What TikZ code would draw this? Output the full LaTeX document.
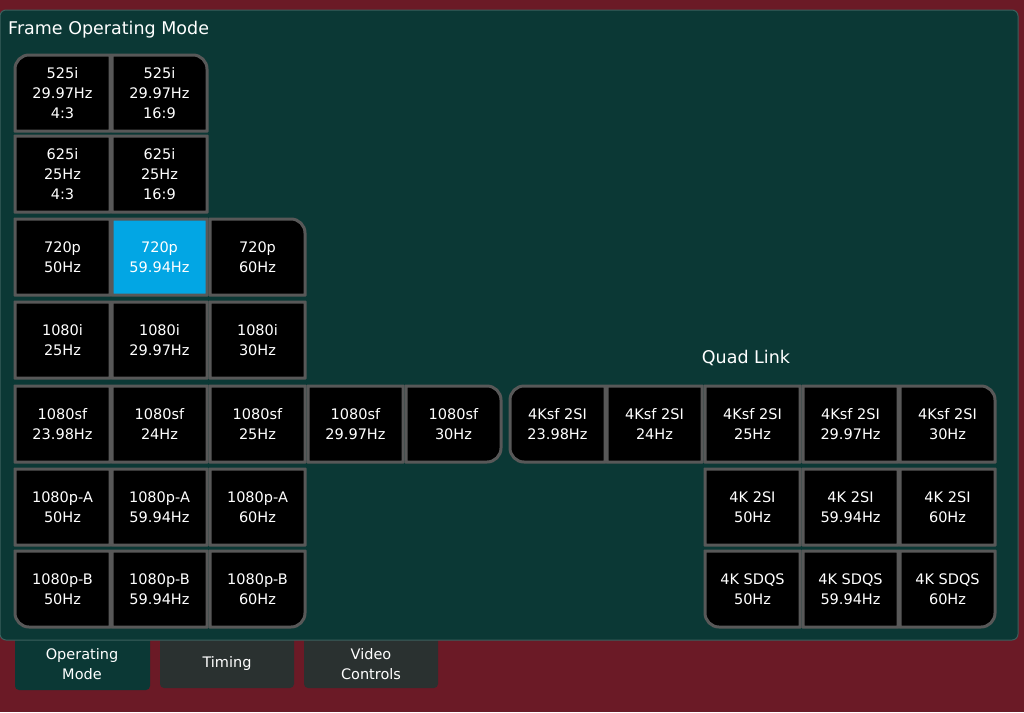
\documentclass[tikz,border=0pt]{standalone}
\usepackage{fontspec}
\setmainfont{DejaVu Sans}
\begin{document}
\begin{tikzpicture}[x=1pt,y=-1pt,
  btnline/.style={draw=bordergray, line width=3pt},
  lbl/.style={text=white, font=\fontsize{14.5}{20}\selectfont, align=center, inner sep=0pt}]
\definecolor{bg}{HTML}{6B1A26}
\definecolor{panel}{HTML}{0B3835}
\definecolor{tabgray}{HTML}{2A3130}
\definecolor{sel}{HTML}{02A6E4}
\definecolor{bordergray}{HTML}{585858}
\useasboundingbox (0,0) rectangle (1024,712);
\fill[bg] (0,0) rectangle (1024,712);
% tabs
\fill[tabgray, rounded corners=4pt] (160,630) rectangle (294,688);
\fill[tabgray, rounded corners=4pt] (304,630) rectangle (438,688);
\fill[panel, rounded corners=4pt] (15,630) rectangle (150,690);
\node[lbl] (tab1) at (82,664) {Operating\\Mode};
\node[lbl] (tab2) at (227,663) {Timing};
\node[lbl] (tab3) at (371,664) {Video\\Controls};
% panel
\draw[panel!80!white, fill=panel, line width=1pt, rounded corners=6pt] (0,10) -- (1018,10) -- (1018,640) -- (0,640) -- cycle;
\node[anchor=west, text=white, font=\fontsize{17.5}{20}\selectfont, inner sep=0pt] (title) at (8,30) {Frame Operating Mode};
\node[text=white, font=\fontsize{17.5}{20}\selectfont, inner sep=0pt] (quad) at (746,358) {Quad Link};
\newcommand{\btn}[9]{%
  \pgfmathsetmacro{\xa}{#1}\pgfmathsetmacro{\ya}{#2}%
  \pgfmathsetmacro{\xb}{#1+95}\pgfmathsetmacro{\yb}{#2+76}%
  \draw[btnline, fill=#7] (\xa+#3,\ya) -- (\xb-#4,\ya) arc[start angle=-90,end angle=0,radius=#4]
    -- (\xb,\yb-#5) arc[start angle=0,end angle=90,radius=#5]
    -- (\xa+#6,\yb) arc[start angle=90,end angle=180,radius=#6]
    -- (\xa,\ya+#3) arc[start angle=180,end angle=270,radius=#3] -- cycle;
  \node[lbl] (#8) at ({(\xa+\xb)/2},{(\ya+\yb)/2}) {#9};}
\def\s{0.01}\def\r{14}
\btn{15}{55}{\r}{\s}{\s}{\s}{black}{a1}{525i\\29.97Hz\\4:3}
\btn{112}{55}{\s}{\r}{\s}{\s}{black}{a2}{525i\\29.97Hz\\16:9}
\btn{15}{136}{\s}{\s}{\s}{\s}{black}{b1}{625i\\25Hz\\4:3}
\btn{112}{136}{\s}{\s}{\s}{\s}{black}{b2}{625i\\25Hz\\16:9}
\btn{15}{219}{\s}{\s}{\s}{\s}{black}{c1}{720p\\50Hz}
\btn{112}{219}{\s}{\s}{\s}{\s}{sel}{c2}{720p\\59.94Hz}
\btn{210}{219}{\s}{\r}{\s}{\s}{black}{c3}{720p\\60Hz}
\btn{15}{302}{\s}{\s}{\s}{\s}{black}{d1}{1080i\\25Hz}
\btn{112}{302}{\s}{\s}{\s}{\s}{black}{d2}{1080i\\29.97Hz}
\btn{210}{302}{\s}{\s}{\s}{\s}{black}{d3}{1080i\\30Hz}
\btn{15}{386}{\s}{\s}{\s}{\s}{black}{e1}{1080sf\\23.98Hz}
\btn{112}{386}{\s}{\s}{\s}{\s}{black}{e2}{1080sf\\24Hz}
\btn{210}{386}{\s}{\s}{\s}{\s}{black}{e3}{1080sf\\25Hz}
\btn{308}{386}{\s}{\s}{\s}{\s}{black}{e4}{1080sf\\29.97Hz}
\btn{406}{386}{\s}{\r}{\r}{\s}{black}{e5}{1080sf\\30Hz}
\btn{510}{386}{\r}{\s}{\s}{\r}{black}{q1}{4Ksf 2SI\\23.98Hz}
\btn{607}{386}{\s}{\s}{\s}{\s}{black}{q2}{4Ksf 2SI\\24Hz}
\btn{705}{386}{\s}{\s}{\s}{\s}{black}{q3}{4Ksf 2SI\\25Hz}
\btn{803}{386}{\s}{\s}{\s}{\s}{black}{q4}{4Ksf 2SI\\29.97Hz}
\btn{900}{386}{\s}{\r}{\s}{\s}{black}{q5}{4Ksf 2SI\\30Hz}
\btn{15}{469}{\s}{\s}{\s}{\s}{black}{f1}{1080p-A\\50Hz}
\btn{112}{469}{\s}{\s}{\s}{\s}{black}{f2}{1080p-A\\59.94Hz}
\btn{210}{469}{\s}{\s}{\s}{\s}{black}{f3}{1080p-A\\60Hz}
\btn{705}{469}{\s}{\s}{\s}{\s}{black}{k1}{4K 2SI\\50Hz}
\btn{803}{469}{\s}{\s}{\s}{\s}{black}{k2}{4K 2SI\\59.94Hz}
\btn{900}{469}{\s}{\s}{\s}{\s}{black}{k3}{4K 2SI\\60Hz}
\btn{15}{551}{\s}{\s}{\s}{\r}{black}{g1}{1080p-B\\50Hz}
\btn{112}{551}{\s}{\s}{\s}{\s}{black}{g2}{1080p-B\\59.94Hz}
\btn{210}{551}{\s}{\s}{\r}{\s}{black}{g3}{1080p-B\\60Hz}
\btn{705}{551}{\s}{\s}{\s}{\r}{black}{s1}{4K SDQS\\50Hz}
\btn{803}{551}{\s}{\s}{\s}{\s}{black}{s2}{4K SDQS\\59.94Hz}
\btn{900}{551}{\s}{\s}{\r}{\s}{black}{s3}{4K SDQS\\60Hz}
\end{tikzpicture}
\end{document}
